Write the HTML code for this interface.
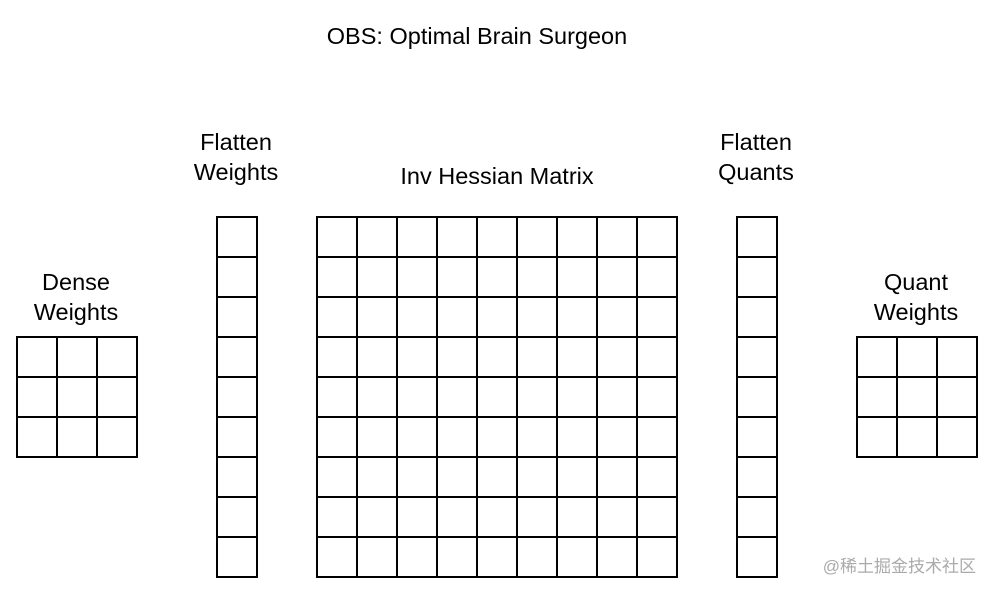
<!DOCTYPE html>
<html><head><meta charset="utf-8"><style>
body{margin:0;background:#fff;}
svg{display:block;}
text{font-family:"Liberation Sans","Noto Sans CJK SC",sans-serif;fill:#000;}
</style></head><body>
<svg id="c" width="994" height="594">
<text x="477" y="44" font-size="23.5" text-anchor="middle">OBS: Optimal Brain Surgeon</text>
<text x="76" y="290" font-size="23.5" text-anchor="middle">Dense</text>
<text x="76" y="320" font-size="23.5" text-anchor="middle">Weights</text>
<text x="236" y="150" font-size="23.5" text-anchor="middle">Flatten</text>
<text x="236" y="180" font-size="23.5" text-anchor="middle">Weights</text>
<text x="497" y="184" font-size="23.5" text-anchor="middle">Inv Hessian Matrix</text>
<text x="756" y="150" font-size="23.5" text-anchor="middle">Flatten</text>
<text x="756" y="180" font-size="23.5" text-anchor="middle">Quants</text>
<text x="916" y="290" font-size="23.5" text-anchor="middle">Quant</text>
<text x="916" y="320" font-size="23.5" text-anchor="middle">Weights</text>
<text x="976" y="572" font-size="17" text-anchor="end" style="fill:#aaa">@稀土掘金技术社区</text>
</svg>
<script>
const gridNames=['dense-weights-grid','flatten-weights-grid','inv-hessian-grid','flatten-quants-grid','quant-weights-grid'];
const gridCols=[3,1,9,1,3];
const gridRows=[3,9,9,9,3];
const gridX=[16,216,316,736,856];
const gridY=[336,216,216,216,336];
const cell=40;
const svg=document.getElementById('c');
const NS='http://www.w3.org/2000/svg';
for(let g=0;g<gridNames.length;g++){
  const grp=document.createElementNS(NS,'g');
  
  
  for(let r=0;r<gridRows[g];r++)for(let c=0;c<gridCols[g];c++){
    const rc=document.createElementNS(NS,'rect');
    rc.setAttribute('x',gridX[g]+c*cell+1);
    rc.setAttribute('y',gridY[g]+r*cell+1);
    rc.setAttribute('width',cell);
    rc.setAttribute('height',cell);
    rc.setAttribute('fill','#fff');
    rc.setAttribute('stroke','#000');
    rc.setAttribute('stroke-width','2');
    
    
    grp.appendChild(rc);
  }
  svg.appendChild(grp);
}
</script>
</body></html>
